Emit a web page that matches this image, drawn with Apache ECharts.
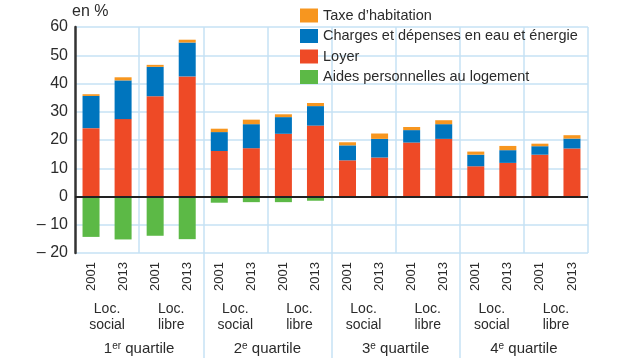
<!DOCTYPE html>
<html>
<head>
<meta charset="utf-8">
<script src="https://cdn.jsdelivr.net/npm/echarts@6/dist/echarts.min.js"></script>
<style>
html,body{margin:0;padding:0;background:#fff;}
#c{width:636px;height:358px;}
</style>
</head>
<body>
<div id="c"></div>
<script>
// Categories
const years = ['2001','2013','2001','2013','2001','2013','2001','2013','2001','2013','2001','2013','2001','2013','2001','2013'];
const tenures = ['Loc.\nsocial','Loc.\nlibre','Loc.\nsocial','Loc.\nlibre','Loc.\nsocial','Loc.\nlibre','Loc.\nsocial','Loc.\nlibre'];
const quartiles = ['1{sup|er} quartile','2{sup|e} quartile','3{sup|e} quartile','4{sup|e} quartile'];
const yTicks = [-20,-10,0,10,20,30,40,50,60];

// Series values (en %)
const loyer   = [24.2, 27.4, 35.5, 42.5, 16.1, 17.1, 22.2, 25.1, 12.8, 13.8, 19.1, 20.4, 10.7, 11.9, 14.8, 17.0];
const charges = [11.4, 13.7, 10.4, 12.0,  6.7,  8.5,  5.9,  6.9,  5.3,  6.6,  4.4,  5.2,  4.1,  4.5,  3.0,  3.5];
const taxe    = [ 0.6,  1.1,  0.7,  1.0,  1.2,  1.6,  1.0,  1.1,  1.1,  1.9,  1.1,  1.4,  1.1,  1.5,  0.9,  1.2];
const aides   = [-14.3,-15.2,-13.9,-15.1,-2.2, -2.0, -2.0, -1.5, -0.3, -0.3, -0.3, -0.3, -0.3, -0.3, -0.3, -0.3];

const FONT = '"Liberation Sans Narrow", "Liberation Sans", Arial, sans-serif';
const TXT = '#2b2b2b';
const GRIDC = '#c6e2f5';
const colors = {taxe:'#f7961f', charges:'#0075be', loyer:'#ee4a26', aides:'#5cb946'};

const chart = echarts.init(document.getElementById('c'), null, {renderer:'canvas'});
const barW = 17;
function bar(name, data, color, extra){
  return Object.assign({
    name, type:'bar', stack:'total', data, barWidth: barW,
    itemStyle:{color}, xAxisIndex:0, yAxisIndex:0, animation:false
  }, extra||{});
}

chart.setOption({
  animation:false,
  textStyle:{fontFamily:FONT},
  grid:[
    {left:75, right:48, top:27, bottom:105, containLabel:false},
    {left:75, right:48, top:253, bottom:0, containLabel:false}
  ],
  legend:{
    orient:'vertical', left:300, top:8, padding:0,
    itemWidth:18, itemHeight:14, itemGap:5.5,
    icon:'rect',
    textStyle:{fontFamily:FONT, fontSize:14.5, color:TXT},
    data:['Taxe d\u2019habitation','Charges et dépenses en eau et énergie','Loyer','Aides personnelles au logement']
  },
  xAxis:[
    {
      type:'category', gridIndex:0, data:years, position:'bottom',
      axisLine:{show:false, onZero:false}, axisTick:{show:false},
      axisLabel:{rotate:90, margin:9, fontSize:13, color:TXT, fontFamily:FONT, interval:0},
      splitLine:{show:false}
    },
    {
      type:'category', gridIndex:0, data:tenures, position:'bottom',
      axisLine:{show:false, onZero:false}, axisTick:{show:false},
      axisLabel:{margin:48, fontSize:14, lineHeight:16, color:TXT, fontFamily:FONT, interval:0},
      splitLine:{show:true, showMinLine:false, lineStyle:{color:GRIDC, width:1.5}}
    },
    {
      type:'category', gridIndex:0, data:quartiles, position:'bottom',
      axisLine:{show:false, onZero:false}, axisTick:{show:false},
      axisLabel:{margin:88, fontSize:15, color:TXT, fontFamily:FONT, interval:0,
        rich:{sup:{fontSize:10, fontFamily:FONT, color:TXT, verticalAlign:'top', padding:[0,0,6,0]}}},
      splitLine:{show:false}
    },
    {
      type:'category', gridIndex:1, data:quartiles, position:'bottom',
      axisLine:{show:false}, axisTick:{show:false}, axisLabel:{show:false},
      splitLine:{show:true, showMinLine:false, showMaxLine:false, lineStyle:{color:GRIDC, width:1.5}}
    }
  ],
  yAxis:[
    {
      type:'value', gridIndex:0, min:-20, max:60, interval:10,
      name:'en %', nameLocation:'end', nameGap:6,
      nameTextStyle:{fontSize:16, color:TXT, fontFamily:FONT, align:'left', padding:[0,0,0,-3]},
      axisLine:{show:true, lineStyle:{color:'#333', width:2.5}},
      axisTick:{show:false},
      axisLabel:{margin:7, fontSize:16, color:TXT, fontFamily:FONT,
        formatter:function(v){ return v<0 ? '\u2013 ' + Math.abs(v) : String(v); }},
      splitLine:{show:true, lineStyle:{color:GRIDC, width:1.5}}
    },
    {
      type:'value', gridIndex:1, min:0, max:1, show:false,
      splitLine:{show:false}
    }
  ],
  series:[
    bar('Loyer', loyer, colors.loyer),
    bar('Charges et dépenses en eau et énergie', charges, colors.charges),
    bar('Taxe d\u2019habitation', taxe, colors.taxe),
    bar('Aides personnelles au logement', aides, colors.aides, {
      markLine:{
        silent:true, symbol:['none','none'], label:{show:false},
        lineStyle:{color:'#222', width:2, type:'solid'},
        data:[{yAxis:0}]
      }
    })
  ]
});
</script>
</body>
</html>
